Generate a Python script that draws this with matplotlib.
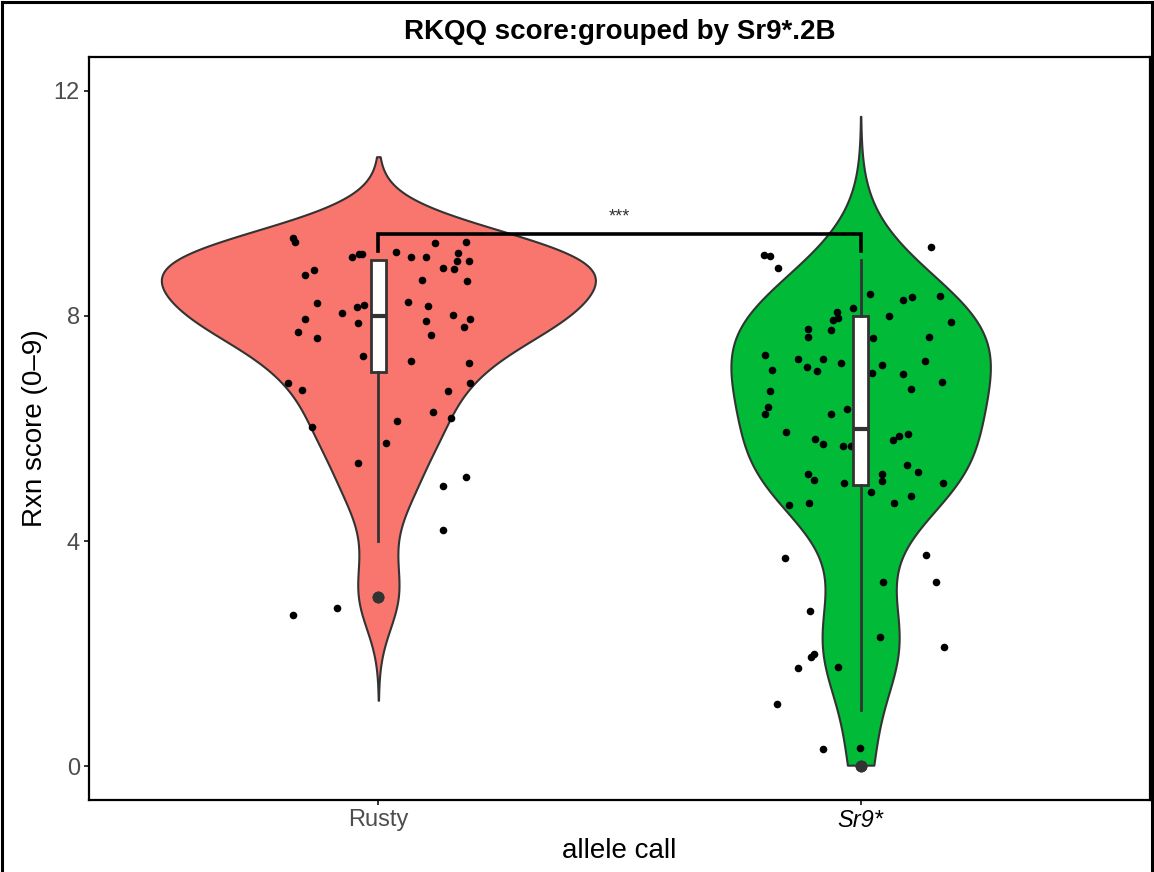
import numpy as np
import matplotlib
matplotlib.use("Agg")
import matplotlib.pyplot as plt
from matplotlib.lines import Line2D

plt.rcParams['font.family'] = ['Liberation Sans', 'DejaVu Sans']

# groups and fill colours (ggplot hue palette)
groups = ["Rusty", "Sr9*"]
fills = ["#F8766D", "#00BA38"]

# reaction scores: how many lines got each score 0..9
score_levels = np.arange(10)
rusty_counts = [0, 0, 0, 2, 1, 3, 5, 7, 15, 19]
sr9_counts = [2, 1, 6, 3, 2, 13, 12, 14, 15, 4]

# jittered points as drawn: horizontal offset from group centre, jittered score
rusty_dx = [-0.178, -0.173, -0.055, -0.041, -0.034, -0.153, -0.134, -0.127, -0.152, -0.166,
            -0.127, -0.076, -0.045, -0.029, -0.043, -0.032, -0.188, -0.159, -0.138, 0.118,
            0.181, 0.036, 0.067, 0.098, 0.166, 0.164, 0.188, 0.133, 0.157, 0.091,
            0.184, 0.062, 0.102, 0.155, 0.190, 0.098, 0.178, 0.110, 0.068, 0.188,
            0.191, 0.144, 0.114, 0.151, 0.038, 0.015, -0.042, 0.181, 0.133, 0.133,
            -0.085, -0.176]
rusty_y = [9.39, 9.31, 9.05, 9.10, 9.10, 8.73, 8.81, 8.23, 7.95, 7.72,
           7.61, 8.06, 8.16, 8.20, 7.88, 7.28, 6.80, 6.69, 6.03, 9.30,
           9.31, 9.14, 9.05, 9.04, 9.12, 8.98, 8.98, 8.85, 8.84, 8.63,
           8.62, 8.24, 8.18, 8.01, 7.94, 7.91, 7.81, 7.66, 7.20, 7.17,
           6.80, 6.67, 6.29, 6.18, 6.13, 5.75, 5.38, 5.13, 4.98, 4.19,
           2.81, 2.69]

sr9_dx = [-0.200, -0.188, -0.171, 0.019, 0.087, 0.107, 0.164, 0.145, -0.016, -0.049,
          -0.047, -0.058, 0.058, 0.187, -0.110, -0.062, -0.110, 0.026, 0.142, -0.199,
          -0.129, -0.078, -0.112, -0.090, -0.041, -0.183, 0.133, 0.044, 0.024, 0.087,
          0.169, 0.105, -0.188, -0.193, -0.199, -0.062, -0.029, -0.154, -0.094, -0.079,
          -0.036, -0.019, 0.068, 0.080, 0.098, -0.109, -0.096, -0.035, 0.044, 0.044,
          0.097, 0.118, 0.171, 0.022, 0.104, -0.148, -0.107, 0.069, -0.156, 0.136,
          0.047, 0.156, -0.104, 0.041, 0.172, -0.103, -0.097, -0.129, -0.047, -0.173,
          -0.079, -0.002]
sr9_y = [9.09, 9.07, 8.85, 8.39, 8.28, 8.34, 8.35, 9.23, 8.14, 8.07,
         7.97, 7.93, 8.00, 7.89, 7.77, 7.75, 7.63, 7.60, 7.63, 7.31,
         7.23, 7.24, 7.09, 7.02, 7.16, 7.04, 7.20, 7.12, 6.99, 6.96,
         6.82, 6.71, 6.67, 6.39, 6.26, 6.25, 6.34, 5.94, 5.81, 5.73,
         5.69, 5.69, 5.80, 5.86, 5.91, 5.19, 5.08, 5.03, 5.20, 5.06,
         5.36, 5.23, 5.04, 4.88, 4.80, 4.64, 4.68, 4.68, 3.70, 3.76,
         3.28, 3.28, 2.76, 2.29, 2.12, 1.94, 1.99, 1.75, 1.76, 1.10,
         0.30, 0.33]

y_limits = (0, 12)
sig_label = "***"


def bw_nrd0(x):
    sd = np.std(x, ddof=1)
    iqr = np.subtract(*np.percentile(x, [75, 25]))
    return 0.9 * min(sd, iqr / 1.34) * len(x) ** -0.2


def gauss_density(x, cut=3, n=512):
    bw = bw_nrd0(x)
    grid = np.linspace(x.min() - cut * bw, x.max() + cut * bw, n)
    z = (grid[:, None] - x[None, :]) / bw
    d = np.exp(-0.5 * z ** 2).sum(axis=1) / (len(x) * bw * np.sqrt(2 * np.pi))
    return grid, d


rusty_scores = np.repeat(score_levels, rusty_counts).astype(float)
sr9_scores = np.repeat(score_levels, sr9_counts).astype(float)
all_scores = [rusty_scores, sr9_scores]
all_dx = [rusty_dx, sr9_dx]
all_y = [rusty_y, sr9_y]

fig = plt.figure(figsize=(11.54, 8.72), dpi=100)
ax = fig.add_axes([89 / 1154, 1 - 800 / 872, 1061 / 1154, 743 / 872])

dens = [gauss_density(s) for s in all_scores]
dmax = max(d.max() for _, d in dens)

for i, (grid, d) in enumerate(dens):
    pos = i + 1
    keep = (grid >= y_limits[0]) & (grid <= y_limits[1])
    w = 0.45 * d[keep] / dmax
    ax.fill_betweenx(grid[keep], pos - w, pos + w, facecolor=fills[i],
                     edgecolor="#333333", linewidth=1.5, zorder=1)

for i in range(2):
    ax.scatter(np.array(all_dx[i]) + i + 1, all_y[i], s=30, color="black",
               linewidths=0, zorder=2)

ax.boxplot(all_scores, positions=[1, 2], widths=0.03, patch_artist=True,
           showcaps=False, whis=1.5, manage_ticks=False, zorder=3,
           boxprops=dict(facecolor="white", edgecolor="#333333", linewidth=2.0),
           whiskerprops=dict(color="#333333", linewidth=2.0),
           medianprops=dict(color="#333333", linewidth=3.0),
           flierprops=dict(marker="o", markerfacecolor="#333333",
                           markeredgecolor="#333333", markersize=7.5))

# significance bracket between the two groups
ax.plot([1, 1, 2, 2], [9.15, 9.46, 9.46, 9.15], color="black", linewidth=2.6,
        solid_joinstyle="miter", zorder=4)
ax.text(1.5, 9.68, sig_label, ha="center", va="baseline", fontsize=13,
        color="#333333", zorder=4)

ax.set_xlim(0.4, 2.6)
ax.set_ylim(y_limits[0] - 0.6, y_limits[1] + 0.6)
ax.set_yticks([0, 4, 8, 12])
ax.set_xticks([1, 2])
ax.set_xticklabels(groups)
xl = ax.get_xticklabels()
xl[0].set_color("#4D4D4D")
xl[1].set_color("black")
xl[1].set_style("italic")
for lab in ax.get_yticklabels():
    lab.set_color("#4D4D4D")
ax.tick_params(axis="both", labelsize=17, length=3.6, width=1.4, color="#333333", pad=3)

for sp in ax.spines.values():
    sp.set_linewidth(1.6)
    sp.set_color("black")

ax.set_xlabel("allele call", fontsize=20)
ax.xaxis.set_label_coords(0.5, -0.069)
ax.xaxis.label.set_verticalalignment("center")
ax.set_ylabel("Rxn score (0\u20139)", fontsize=20)
ax.yaxis.set_label_coords(-0.051, 0.5)
ax.yaxis.label.set_verticalalignment("center")

fig.text(619.5 / 1154, 1 - 32 / 872, "RKQQ score:grouped by Sr9*.2B",
         ha="center", va="center", fontsize=20, fontweight="bold")

# black frame around the figure
for xs, ys in [([0.002, 0.002], [0, 0.998]), ([0.002, 0.998], [0.998, 0.998]),
               ([0.998, 0.998], [0, 0.998])]:
    fig.add_artist(Line2D(xs, ys, color="black", linewidth=2.2))

fig.savefig("out.png", dpi=100)
